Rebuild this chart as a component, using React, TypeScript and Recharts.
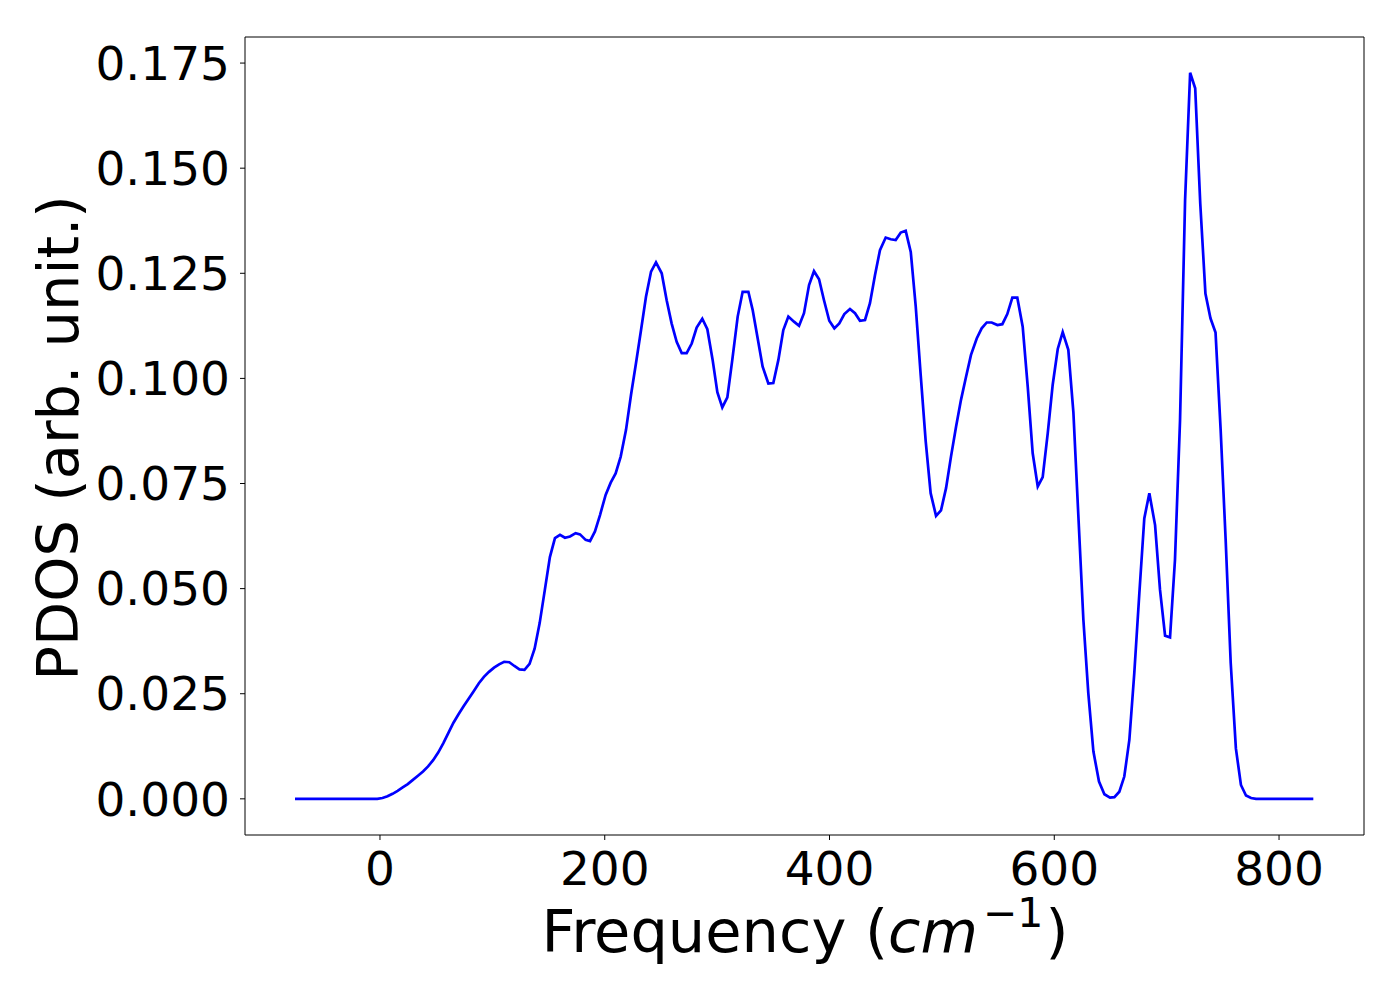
import React from 'react';
import { LineChart, Line, XAxis, YAxis, ReferenceLine } from 'recharts';

// frequency grid (cm^-1) and PDOS values
const frequency = [
  -75.6, -38, -2.4, 2.2, 6.7, 11.2, 15.7, 20.2, 24.7, 29.3, 33.8, 38.3, 42.8, 47.3, 51.8, 56.3, 60.9, 65.4,
  69.9, 74.4, 78.9, 83.4, 88, 92.5, 97, 101.5, 106, 110.5, 115.1, 119.6, 124.1, 128.6, 133.1, 137.6, 142.1,
  146.7, 151.2, 155.7, 160.2, 164.6, 169.1, 174.1, 178, 183, 186.9, 191.3, 195.8, 200.8, 205.3, 209.7, 214.2,
  218.9, 223.4, 227.8, 232.3, 236.7, 241.2, 245.6, 250.7, 255.1, 259.5, 264, 268.5, 272.9, 277.4, 281.8,
  286.8, 291.3, 296, 300.2, 304.6, 309.1, 313.5, 318.3, 322.7, 327.8, 331.6, 336.1, 340.5, 345.6, 350,
  354.5, 358.9, 363.4, 368.4, 372.9, 377.3, 381.8, 386.2, 390.7, 395.1, 399.8, 404.3, 408.7, 413.2, 418.2,
  422.7, 427.1, 431.6, 436, 440.5, 444.9, 450, 454.5, 458.9, 463.4, 467.8, 472.3, 476.7, 481.2, 485.6, 490,
  494.8, 499.2, 503.7, 508.1, 512.6, 517, 521.5, 525.9, 531, 535.4, 539.9, 544.3, 549.4, 553.8, 558.2,
  562.7, 567.1, 571.9, 576.4, 580.8, 585.3, 589.7, 594.2, 598.6, 603.1, 607.5, 612.5, 617, 621.4, 625.9,
  630.3, 634.8, 639.8, 644.6, 649.6, 653.5, 657.9, 662.3, 666.8, 671.2, 675.7, 680.1, 684.6, 689.7, 694.1,
  698.6, 703, 707.4, 711.9, 716.4, 720.9, 725.4, 729.9, 734.5, 739, 743.5, 748, 752.5, 757, 761.6, 766.1,
  770.6, 775.1, 779.6, 830.5,
];

const pdos = [
  0, 0, 0, 0.0002, 0.0006, 0.0012, 0.0019, 0.0027, 0.0035, 0.0045, 0.0055, 0.0065, 0.0077, 0.0092, 0.011,
  0.0132, 0.0157, 0.0181, 0.0201, 0.022, 0.0238, 0.0256, 0.0275, 0.029, 0.0302, 0.0312, 0.032, 0.0326,
  0.0325, 0.0316, 0.0308, 0.0307, 0.0321, 0.0357, 0.0418, 0.0497, 0.0575, 0.062, 0.0628, 0.0621, 0.0624,
  0.0632, 0.0629, 0.0616, 0.0613, 0.0636, 0.0675, 0.0723, 0.0752, 0.0774, 0.0814, 0.0877, 0.0961, 0.1036,
  0.1115, 0.1194, 0.1254, 0.1276, 0.125, 0.1186, 0.1131, 0.1087, 0.106, 0.106, 0.1083, 0.1121, 0.1142,
  0.1117, 0.1044, 0.0967, 0.0931, 0.0955, 0.1044, 0.1147, 0.1206, 0.1206, 0.1163, 0.1095, 0.1028, 0.0988,
  0.0989, 0.1044, 0.1115, 0.1147, 0.1135, 0.1125, 0.1155, 0.1222, 0.1255, 0.1236, 0.1186, 0.1137, 0.1119,
  0.1131, 0.1153, 0.1165, 0.1155, 0.1137, 0.1139, 0.1179, 0.1246, 0.1305, 0.1335, 0.1331, 0.1329, 0.1347,
  0.1351, 0.1301, 0.1172, 0.1006, 0.085, 0.0727, 0.0673, 0.0686, 0.0739, 0.0814, 0.0885, 0.0949, 0.1004,
  0.1056, 0.1095, 0.1119, 0.1133, 0.1133, 0.1127, 0.1129, 0.1153, 0.1192, 0.1192, 0.1123, 0.098, 0.0822,
  0.0743, 0.0765, 0.087, 0.0985, 0.107, 0.111, 0.1068, 0.092, 0.0675, 0.0426, 0.0251, 0.0113, 0.0041,
  0.0011, 0.0003, 0.0004, 0.0017, 0.0053, 0.014, 0.0299, 0.0489, 0.0667, 0.0727, 0.0651, 0.0497, 0.0388,
  0.0384, 0.0568, 0.09, 0.1424, 0.1727, 0.169, 0.1416, 0.1202, 0.1143, 0.1109, 0.088, 0.0616, 0.0323,
  0.012, 0.0033, 0.0008, 0.0002, 0, 0,
];

const xTicks = [0, 200, 400, 600, 800];
const yTicks = [0, 0.025, 0.05, 0.075, 0.1, 0.125, 0.15, 0.175];

const X_DOMAIN: [number, number] = [-120.1, 875.6];
const Y_DOMAIN: [number, number] = [-0.0086, 0.1812];

const FONT = '"DejaVu Sans", sans-serif';

const chartData = frequency.map((f, i) => ({ freq: f, pdos: pdos[i] }));

const tickStyle = { fill: '#000', fontSize: 47, fontFamily: FONT };

export default function App() {
  return (
    <div style={{ position: 'absolute', left: 0, top: 0, width: 1400, height: 1000, background: '#fff' }}>
      <LineChart
        width={1400}
        height={1000}
        data={chartData}
        margin={{ top: 37, right: 36, bottom: 105, left: 45 }}
      >
        <XAxis
          dataKey="freq"
          type="number"
          domain={X_DOMAIN}
          ticks={xTicks}
          allowDataOverflow
          height={60}
          tick={tickStyle}
          tickSize={5}
          tickMargin={12}
          stroke="#000"
          tickLine={{ stroke: '#000' }}
        />
        <YAxis
          type="number"
          domain={Y_DOMAIN}
          ticks={yTicks}
          allowDataOverflow
          width={200}
          tick={tickStyle}
          tickSize={5}
          tickMargin={10}
          tickFormatter={(v: number) => v.toFixed(3)}
          stroke="#000"
          tickLine={{ stroke: '#000' }}
        />
        <ReferenceLine y={Y_DOMAIN[1]} stroke="#000" strokeWidth={1} ifOverflow="extendDomain" />
        <ReferenceLine x={X_DOMAIN[1]} stroke="#000" strokeWidth={1} ifOverflow="extendDomain" />
        <Line
          type="linear"
          dataKey="pdos"
          stroke="#0000ff"
          strokeWidth={2.7}
          dot={false}
          isAnimationActive={false}
        />
      </LineChart>
      <svg
        width={1400}
        height={1000}
        style={{ position: 'absolute', left: 0, top: 0, pointerEvents: 'none' }}
      >
        <text x={805} y={952} textAnchor="middle" fontSize={59} fontFamily={FONT} fill="#000">
          Frequency (<tspan fontStyle="italic">cm</tspan>
          <tspan fontSize={41} dx={5} dy={-25}>−1</tspan>
          <tspan dx={2} dy={25}>)</tspan>
        </text>
        <text
          transform="translate(78, 438) rotate(-90)"
          textAnchor="middle"
          fontSize={57.5}
          fontFamily={FONT}
          fill="#000"
        >
          PDOS (arb. unit.)
        </text>
      </svg>
    </div>
  );
}
